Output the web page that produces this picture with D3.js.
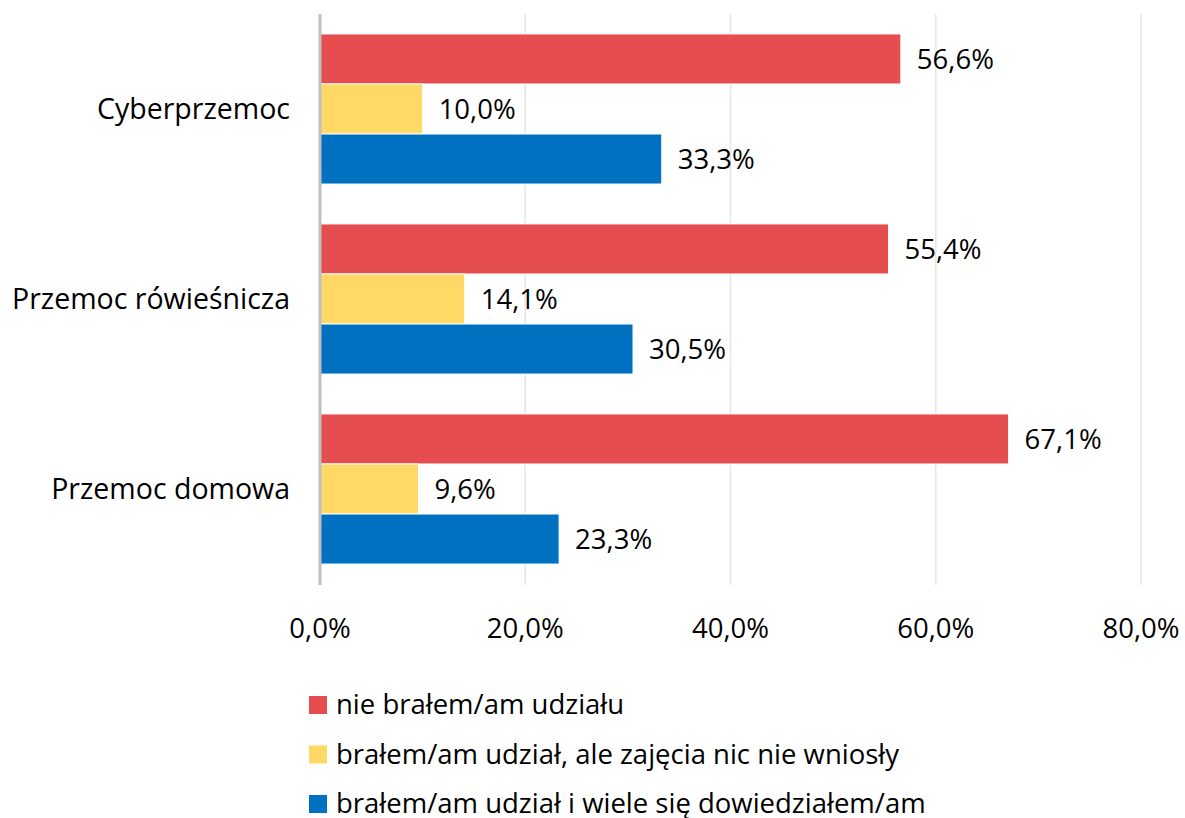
<!DOCTYPE html>
<html lang="pl">
<head>
<meta charset="utf-8">
<script src="https://cdn.jsdelivr.net/npm/d3@7"></script>
<style>
  body { margin: 0; background: #fff; }
  text { font-family: "Open Sans", "Noto Sans", sans-serif; fill: #000; }
</style>
</head>
<body>
<div id="chart"></div>
<script>
// data
var categories = ["Cyberprzemoc", "Przemoc rówieśnicza", "Przemoc domowa"];
var seriesNames = ["nie brałem/am udziału", "brałem/am udział, ale zajęcia nic nie wniosły", "brałem/am udział i wiele się dowiedziałem/am"];
var seriesColors = ["#E64D4E", "#FED966", "#0070C0"];
var notTaken = [56.6, 55.4, 67.1];
var nothingGained = [10.0, 14.1, 9.6];
var learnedMuch = [33.3, 30.5, 23.3];
var xTicks = [0, 20, 40, 60, 80];

var seriesValues = [notTaken, nothingGained, learnedMuch];

var W = 1185, H = 818;
var margin = {top: 14, left: 320};

var svg = d3.select("#chart").append("svg")
    .attr("width", W).attr("height", H);
var g = svg.append("g")
    .attr("transform", "translate(" + margin.left + "," + margin.top + ")");

var x = d3.scaleLinear().domain([0, 80]).range([0, 821]);
var y0 = d3.scaleBand().domain(categories).range([0, 570])
    .paddingInner(0.21).paddingOuter(0.105);
var y1 = d3.scaleBand().domain(d3.range(seriesNames.length)).range([0, y0.bandwidth()]);

var fmt = function(v) { return v.toFixed(1).replace(".", ",") + "%"; };

// grid lines
g.selectAll(".grid").data(xTicks.slice(1)).enter().append("line")
    .attr("x1", d => x(d)).attr("x2", d => x(d))
    .attr("y1", 0).attr("y2", 571)
    .attr("stroke", "#e6e6e6").attr("stroke-width", 1.5);

// bars
var rows = [];
categories.forEach(function(c, i) {
  seriesValues.forEach(function(s, j) { rows.push({cat: c, s: j, v: s[i]}); });
});
g.selectAll(".bar").data(rows).enter().append("rect")
    .attr("x", 0)
    .attr("y", d => y0(d.cat) + y1(d.s))
    .attr("width", d => x(d.v))
    .attr("height", y1.bandwidth())
    .attr("fill", d => seriesColors[d.s])
    .attr("stroke", "#fff").attr("stroke-width", 1);

// value labels
g.selectAll(".val").data(rows).enter().append("text")
    .attr("x", d => x(d.v) + 16)
    .attr("y", d => y0(d.cat) + y1(d.s) + y1.bandwidth() / 2)
    .attr("dy", "0.36em")
    .style("font-size", "27.5px")
    .text(d => fmt(d.v));

// axis line
g.append("line").attr("x1", 0).attr("x2", 0).attr("y1", 0).attr("y2", 571)
    .attr("stroke", "#bfbfbf").attr("stroke-width", 3);

// category labels
g.selectAll(".cat").data(categories).enter().append("text")
    .attr("x", -30)
    .attr("y", d => y0(d) + y0.bandwidth() / 2)
    .attr("dy", "0.36em")
    .attr("text-anchor", "end")
    .style("font-size", "28.5px")
    .text(d => d);

// x tick labels
g.selectAll(".tick").data(xTicks).enter().append("text")
    .attr("x", d => x(d))
    .attr("y", 624)
    .attr("text-anchor", "middle")
    .style("font-size", "27.5px")
    .text(d => fmt(d));

// legend
var legend = svg.append("g").attr("transform", "translate(309,696)");
var li = legend.selectAll("g").data(seriesNames).enter().append("g")
    .attr("transform", (d, i) => "translate(0," + (i * 49.5) + ")");
li.append("rect").attr("width", 18).attr("height", 18)
    .attr("fill", (d, i) => seriesColors[i]);
li.append("text").attr("x", 27).attr("y", 9).attr("dy", "0.34em")
    .style("font-size", "27.5px")
    .text(d => d);
</script>
</body>
</html>
